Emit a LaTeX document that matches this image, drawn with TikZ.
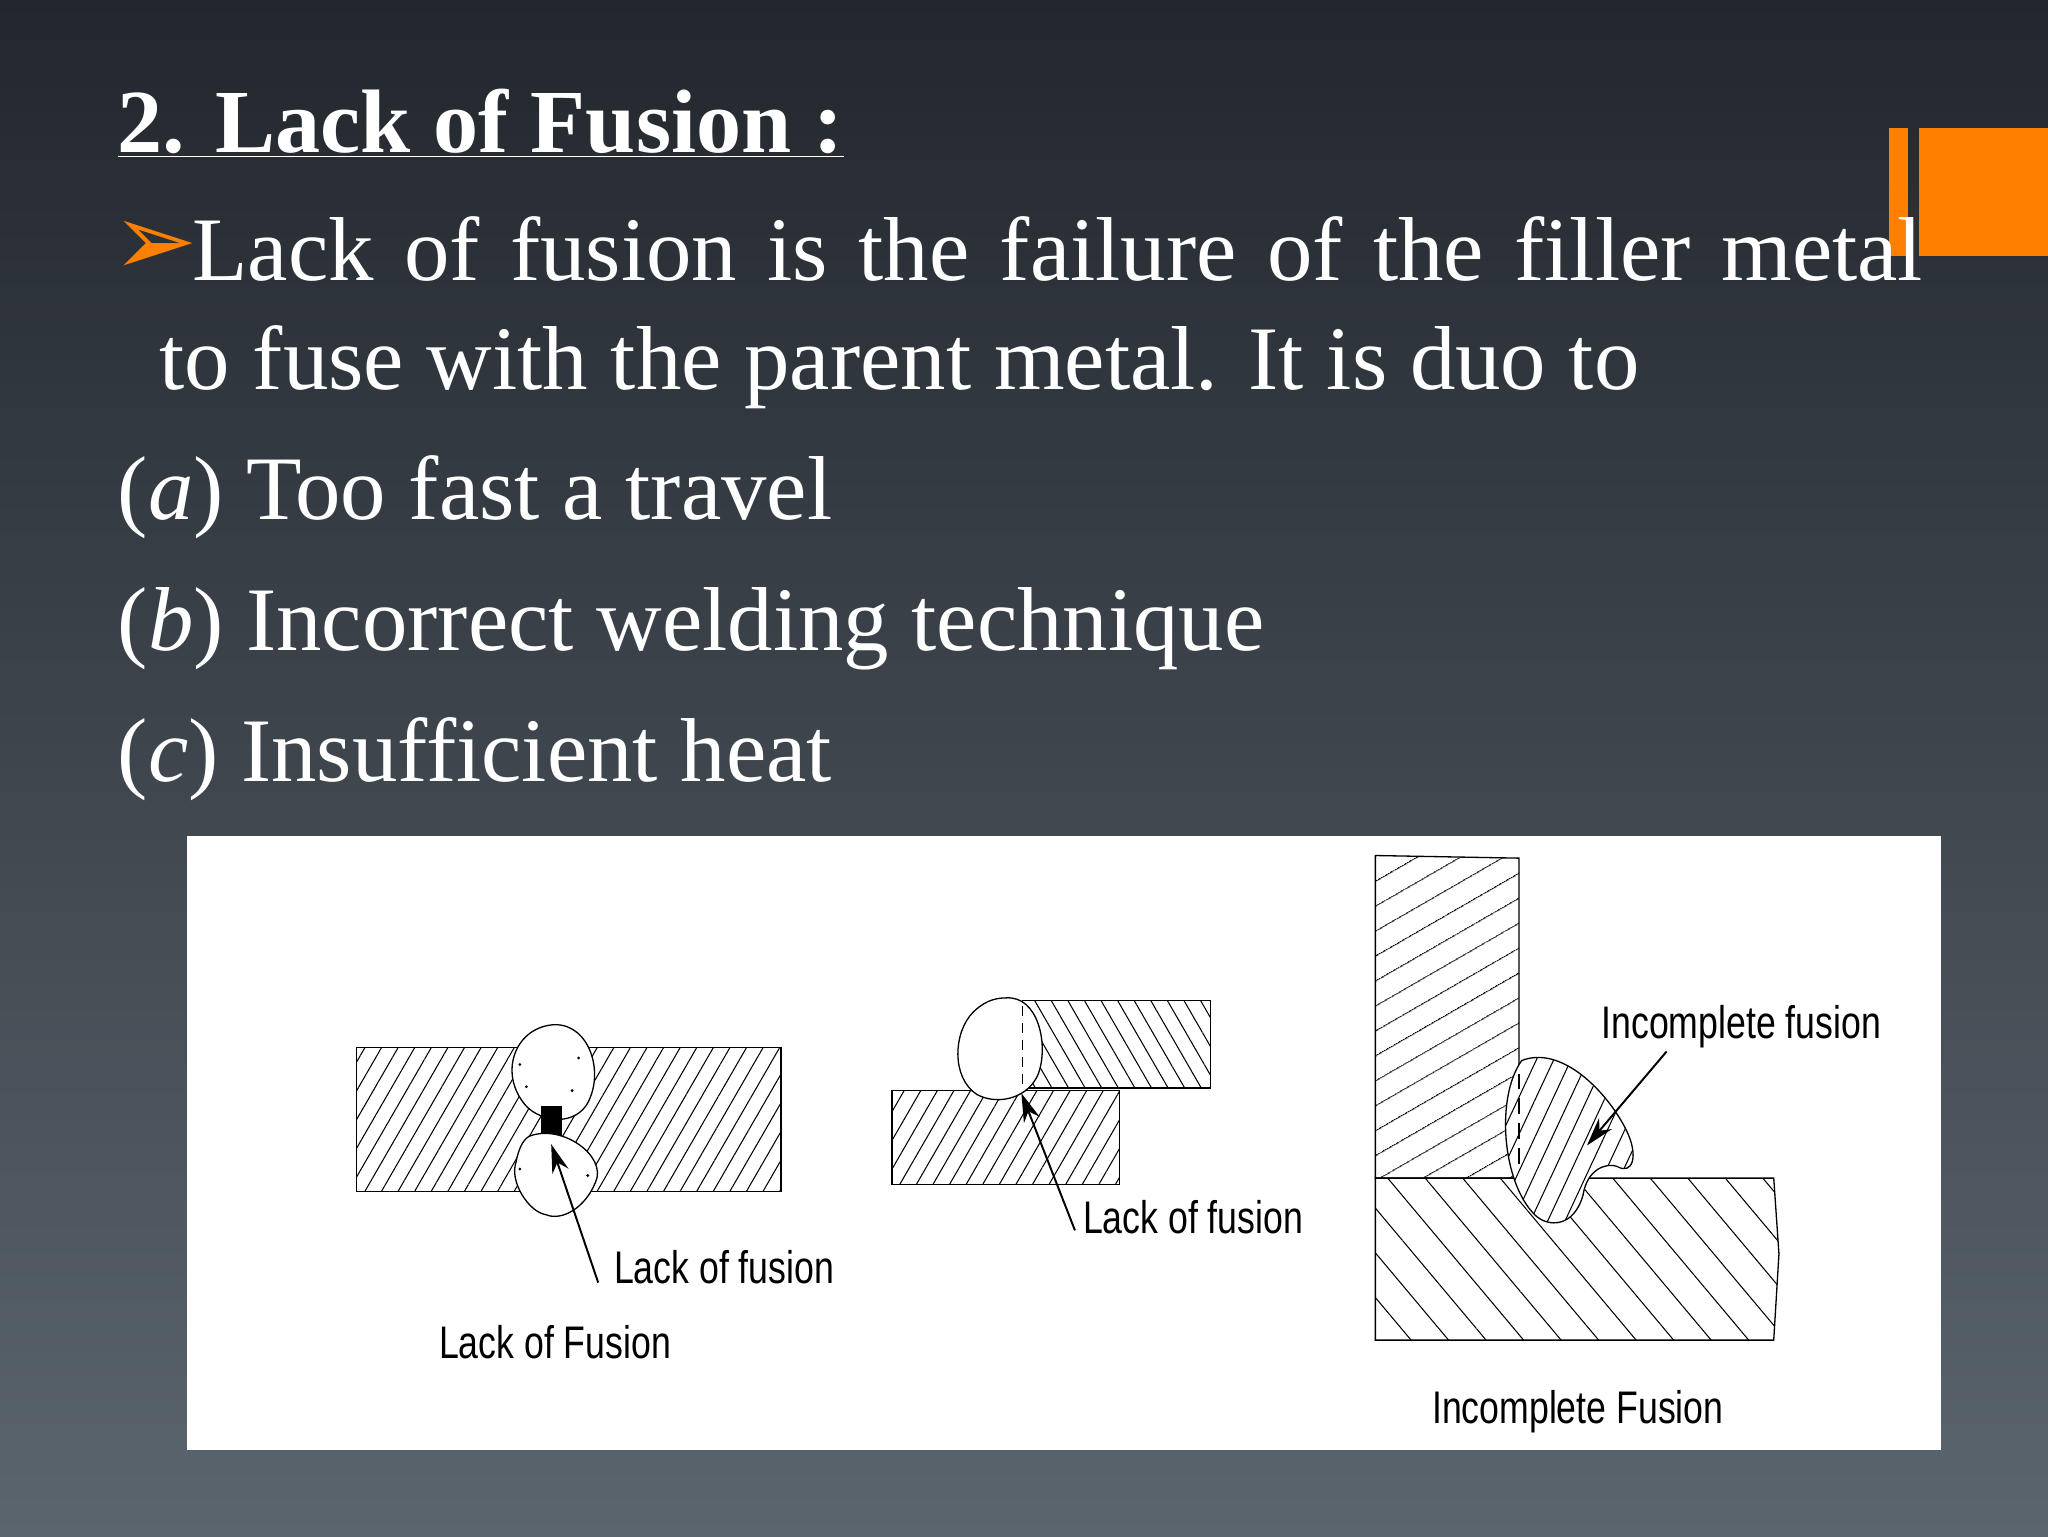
\documentclass[tikz,border=0pt]{standalone}
\usepackage{fontspec}
\setmainfont{Liberation Serif}
\newfontfamily\nar[FakeStretch=0.78]{Liberation Sans}
\newfontfamily\dejavu{DejaVu Sans}
\usetikzlibrary{patterns.meta,arrows.meta}
\definecolor{bgtop}{HTML}{22272D}
\definecolor{bgbot}{HTML}{5B656E}
\definecolor{orng}{HTML}{FF8000}
\tikzset{
  body/.style={anchor=base west,text=white,font=\fontsize{69.5}{74}\selectfont,inner sep=0pt},
  lab/.style={font=\nar\fontsize{35}{38}\selectfont,inner sep=0pt,text=black},
  plate/.style={draw=black,line width=1pt},
  lead/.style={draw=black,line width=1.5pt,-{Stealth[length=22pt,width=13pt]}},
  hatchA/.style={pattern={Lines[angle=60,distance=11pt,line width=0.8pt]}},
  hatchB/.style={pattern={Lines[angle=-60,distance=11pt,line width=0.8pt]}},
  hatchC/.style={pattern={Lines[angle=30,distance=17pt,line width=0.8pt]}},
  hatchD/.style={pattern={Lines[angle=-50,distance=22pt,line width=0.8pt]}},
}
\begin{document}
\begin{tikzpicture}[x=1pt,y=-1pt]
\shade[top color=bgtop,bottom color=bgbot] (0,0) rectangle (1568,1176);
\useasboundingbox (0,0) rectangle (1568,1176);
% orange decoration
\fill[orng] (1446,98) rectangle (1461,196);
\fill[orng] (1469,98) rectangle (1568,196);
% text
\node[body,font=\bfseries\fontsize{69}{74}\selectfont] (title) at (90,117) {\underline{2. Lack of Fusion :}};
\node[anchor=west,text=orng,inner sep=0pt] (arr) at (86,190) {\dejavu\fontsize{78}{84}\selectfont\symbol{"27A2}};
\node[body] (l1) at (147,215) {\makebox[1325pt][s]{Lack of fusion is the failure of the filler metal}};
\node[body] (l2) at (122,298) {to fuse with the parent metal. It is duo to};
\node[body] (l3) at (90,398) {(\textit{a}) Too fast a travel};
\node[body] (l4) at (90,498) {(\textit{b}) Incorrect welding technique};
\node[body] (l5) at (90,598) {(\textit{c}) Insufficient heat};
% panel
\fill[white] (143,640) rectangle (1486,1110);
% diagram 1
\draw[plate,hatchA] (273,802) rectangle (598,912);
\fill[white,draw=black,line width=1pt] (420,785) .. controls (448,780) and (462,815) .. (452,840) .. controls (445,860) and (420,862) .. (404,848) .. controls (382,825) and (392,790) .. (420,785) -- cycle;
\fill[black] (414,847) rectangle (430,880);
\fill[white,draw=black,line width=1pt] (405,870) .. controls (430,860) and (465,885) .. (456,905) .. controls (448,925) and (430,935) .. (418,930) .. controls (405,928) and (390,905) .. (395,890) .. controls (397,880) and (400,873) .. (405,870) -- cycle;
\foreach \p in {(398,815),(403,832),(443,810),(438,835),(398,895),(450,900)} \fill \p circle (1.2pt);
\coordinate (t1) at (458,982);
\coordinate (h1) at (422,876);
\draw[lead] (t1) -- (h1);
\node[lab,anchor=base west] (lf1) at (470,983) {Lack of fusion};
\node[lab,anchor=base] (cap1) at (425,1040) {Lack of Fusion};
% diagram 2
\draw[plate,hatchA] (683,835) rectangle (857,907);
\draw[plate,hatchB] (783,766) rectangle (927,833);
\fill[white,draw=black,line width=1pt] (770,764) .. controls (795,762) and (803,800) .. (795,822) .. controls (788,840) and (765,847) .. (748,838) .. controls (728,825) and (730,790) .. (745,775) .. controls (752,768) and (760,764) .. (770,764) -- cycle;
\draw[line width=1pt,dash pattern=on 8pt off 5pt] (783,770) -- (783,830);
\coordinate (t2) at (823,942);
\coordinate (h2) at (782,837);
\draw[lead] (t2) -- (h2);
\node[lab,anchor=base west] (lf2) at (829,944) {Lack of fusion};
% diagram 3
\draw[plate,hatchC] (1053,655) -- (1163,657) -- (1163,902) -- (1053,902) -- cycle;
\draw[plate,hatchD] (1053,902) -- (1358,902) -- (1362,960) -- (1358,1026) -- (1053,1026) -- cycle;
\fill[white] (1165,812) .. controls (1195,800) and (1230,835) .. (1245,865) .. controls (1255,885) and (1250,900) .. (1238,893) .. controls (1230,890) and (1215,895) .. (1212,915) .. controls (1205,940) and (1185,940) .. (1175,930) .. controls (1150,905) and (1145,840) .. (1165,812) -- cycle;
\draw[line width=1pt,pattern={Lines[angle=65,distance=12pt,line width=0.8pt]}] (1165,812) .. controls (1195,800) and (1230,835) .. (1245,865) .. controls (1255,885) and (1250,900) .. (1238,893) .. controls (1230,890) and (1215,895) .. (1212,915) .. controls (1205,940) and (1185,940) .. (1175,930) .. controls (1150,905) and (1145,840) .. (1165,812) -- cycle;
\draw[line width=2pt,dash pattern=on 12pt off 7pt] (1163,822) -- (1163,895);
\coordinate (t3) at (1276,805);
\coordinate (h3) at (1215,877);
\draw[lead] (t3) -- (h3);
\node[lab,anchor=base west] (if1) at (1226,795) {Incomplete fusion};
\node[lab,anchor=base] (cap3) at (1208,1090) {Incomplete Fusion};
\end{tikzpicture}
\end{document}
